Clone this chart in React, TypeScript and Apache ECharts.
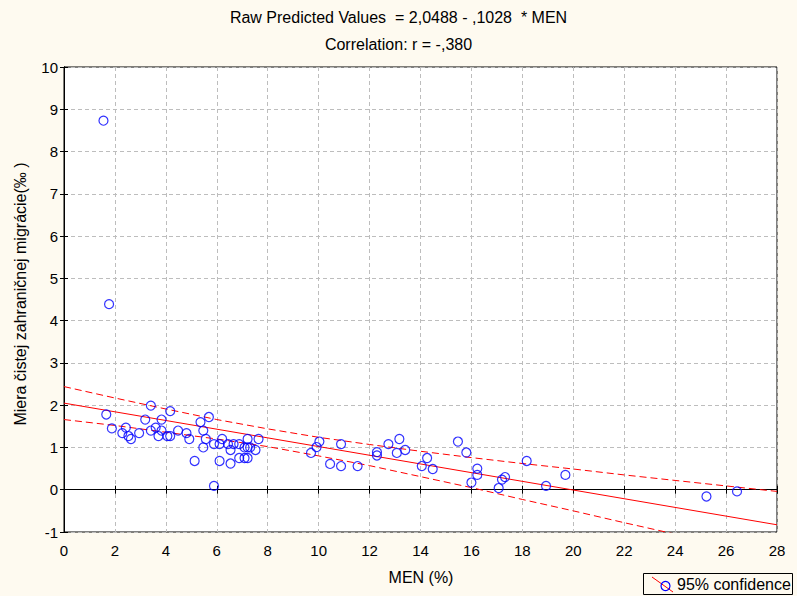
import React, { useEffect, useRef } from "react";
import * as echarts from "echarts";

const titleLine1 = "Raw Predicted Values  = 2,0488 - ,1028  * MEN";
const titleLine2 = "Correlation: r = -,380";
const xName = "MEN (%)";
const yName = "Miera čistej zahraničnej migrácie(‰ )";
const legendLabel = "95% confidence";

const menX = [
  1.55, 1.77, 1.66, 1.88, 3.41, 4.17, 3.19, 3.83, 2.43, 2.29, 2.53, 2.63, 2.95, 3.41, 3.6, 3.83, 3.71,
  4.06, 4.17, 4.48, 4.81, 4.92, 5.13, 5.36, 5.69, 5.47, 5.57, 5.47, 5.89, 5.89, 6.11, 6.11, 6.21, 6.44,
  6.54, 6.54, 6.66, 6.88, 6.88, 7.09, 7.21, 7.09, 7.21, 7.21, 7.31, 7.52, 7.64,
  9.7, 9.92, 10.03, 10.45, 10.88, 10.88, 11.53, 12.29, 12.29, 12.74, 13.07, 13.17, 13.4, 14.05, 14.26,
  14.48, 15.47, 15.8, 16.0, 16.23, 16.23, 17.07, 17.2, 17.32, 18.17, 18.93, 19.69, 25.23, 26.43,
];
const migY = [
  8.73, 4.39, 1.78, 1.45, 1.99, 1.86, 1.66, 1.66, 1.47, 1.34, 1.27, 1.2, 1.34, 1.4, 1.47, 1.4, 1.27,
  1.27, 1.27, 1.4, 1.34, 1.2, 0.68, 1.6, 1.72, 1.4, 1.2, 1.0, 1.08, 0.09, 1.08, 0.68, 1.2, 1.08,
  0.94, 0.62, 1.08, 1.08, 0.75, 0.75, 0.75, 1.0, 1.2, 1.0, 1.0, 0.94, 1.2,
  0.87, 1.01, 1.14, 0.61, 1.08, 0.56, 0.56, 0.89, 0.81, 1.08, 0.87, 1.2, 0.94, 0.56, 0.75,
  0.49, 1.14, 0.88, 0.17, 0.5, 0.35, 0.04, 0.24, 0.3, 0.68, 0.09, 0.35, -0.16, -0.04,
];

const fitX = [0, 28];
const fitY = [2.0488, -0.8296];

const bandX = [0, 2, 4, 6, 8, 10, 12, 14, 16, 18, 20, 22, 24, 26, 28];
const bandUpper = [2.44, 2.17, 1.91, 1.66, 1.44, 1.24, 1.07, 0.91, 0.76, 0.62, 0.49, 0.35, 0.22, 0.09, -0.04];
const bandLower = [1.66, 1.52, 1.36, 1.2, 1.02, 0.8, 0.57, 0.31, 0.05, -0.23, -0.5, -0.78, -1.05, -1.33, -1.61];

const FONT = "'Liberation Sans', Arial, sans-serif";

export default function App() {
  const ref = useRef<HTMLDivElement>(null);
  useEffect(() => {
    if (!ref.current) return;
    const chart = echarts.init(ref.current, undefined, { renderer: "svg" });
    const gridLine = { show: true, lineStyle: { color: "#bdbdbd", type: [4, 3] as any, width: 1 } };
    const axisLine = { show: true, lineStyle: { color: "#000", width: 1 } };
    const tick = { show: true, inside: true, length: 4, lineStyle: { color: "#000" } };
    chart.setOption({
      animation: false,
      backgroundColor: "#fefaf0",
      textStyle: { fontFamily: FONT },
      grid: {
        left: 64,
        top: 67,
        width: 713,
        height: 465,
        show: true,
        backgroundColor: "#ffffff",
        borderColor: "#000",
        borderWidth: 1,
      },
      xAxis: [
        {
          type: "value",
          min: 0,
          max: 28,
          interval: 2,
          position: "bottom",
          axisLine,
          axisTick: tick,
          splitLine: gridLine,
          axisLabel: { color: "#000", fontSize: 15, margin: 11, fontFamily: FONT },
        },
        {
          type: "value",
          min: 0,
          max: 28,
          interval: 2,
          position: "top",
          axisLine,
          axisTick: tick,
          splitLine: { show: false },
          axisLabel: { show: false },
        },
      ],
      yAxis: [
        {
          type: "value",
          min: -1,
          max: 10,
          interval: 1,
          position: "left",
          axisLine,
          axisTick: tick,
          splitLine: gridLine,
          axisLabel: { color: "#000", fontSize: 15, margin: 6, fontFamily: FONT },
        },
        {
          type: "value",
          min: -1,
          max: 10,
          interval: 1,
          position: "right",
          axisLine,
          axisTick: tick,
          splitLine: { show: false },
          axisLabel: { show: false },
        },
      ],
      series: [
        {
          type: "line",
          data: bandX.map((x, i) => [x, bandUpper[i]]),
          symbol: "none",
          clip: true,
          lineStyle: { color: "#ff0000", width: 1, type: [7, 4] as any },
          z: 2,
        },
        {
          type: "line",
          data: bandX.map((x, i) => [x, bandLower[i]]),
          symbol: "none",
          clip: true,
          lineStyle: { color: "#ff0000", width: 1, type: [7, 4] as any },
          z: 2,
        },
        {
          type: "line",
          data: fitX.map((x, i) => [x, fitY[i]]),
          symbol: "none",
          clip: true,
          lineStyle: { color: "#ff0000", width: 1 },
          z: 2,
        },
        {
          type: "scatter",
          data: menX.map((x, i) => [x, migY[i]]),
          symbol: "circle",
          symbolSize: 9,
          itemStyle: { color: "rgba(0,0,0,0)", borderColor: "#0000ff", borderWidth: 1.2 },
          z: 3,
        },
      ],
      graphic: [
        {
          type: "text",
          left: "center",
          top: 9,
          style: { text: titleLine1, fontSize: 16, fill: "#000", fontFamily: FONT },
        },
        {
          type: "text",
          left: "center",
          top: 36,
          style: { text: titleLine2, fontSize: 16, fill: "#000", fontFamily: FONT },
        },
        {
          type: "text",
          x: 421,
          y: 577,
          style: {
            text: xName,
            fontSize: 16,
            fill: "#000",
            fontFamily: FONT,
            align: "center",
            verticalAlign: "middle",
          },
        },
        {
          type: "text",
          x: 20,
          y: 294,
          rotation: Math.PI / 2,
          style: {
            text: yName,
            fontSize: 16,
            fill: "#000",
            fontFamily: FONT,
            align: "center",
            verticalAlign: "middle",
          },
        },
        {
          type: "rect",
          shape: { x: 643.5, y: 573.5, width: 149, height: 21 },
          style: { fill: "#fefaf0", stroke: "#000", lineWidth: 1 },
        },
        {
          type: "line",
          shape: { x1: 652, y1: 577, x2: 673, y2: 592 },
          style: { stroke: "#ff0000", lineWidth: 1 },
        },
        {
          type: "circle",
          shape: { cx: 665.5, cy: 586, r: 4.5 },
          style: { fill: "rgba(0,0,0,0)", stroke: "#0000ff", lineWidth: 1.2 },
        },
        {
          type: "text",
          x: 677,
          y: 584.5,
          style: {
            text: legendLabel,
            fontSize: 16,
            fill: "#000",
            fontFamily: FONT,
            align: "left",
            verticalAlign: "middle",
          },
        },
      ],
    });
    return () => chart.dispose();
  }, []);
  return (
    <div
      ref={ref}
      style={{ position: "absolute", left: 0, top: 0, width: 797, height: 596 }}
    />
  );
}
